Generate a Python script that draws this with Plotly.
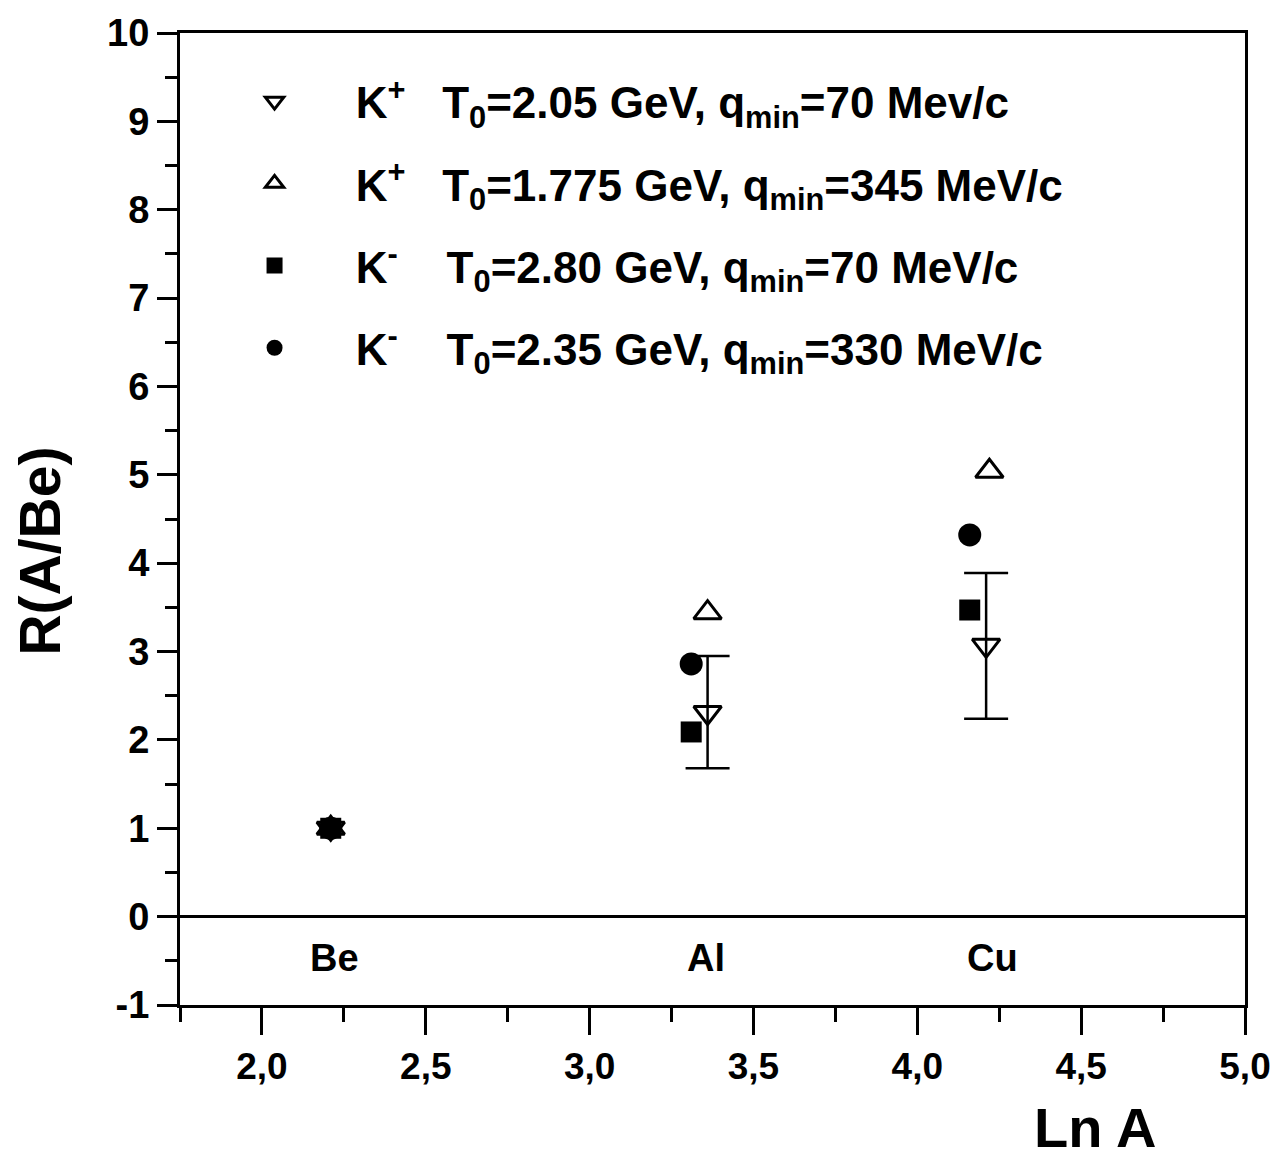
import plotly.graph_objects as go

# ---- data ----
# K+ (T0 = 2.05 GeV) series listed as Al, Cu, Be (error bars only on Al and Cu)
kp205_x = [3.36, 4.21, 2.21]
kp205_y = [2.31, 3.07, 1.0]
kp205_err_plus = [0.64, 0.82]
kp205_err_minus = [0.63, 0.83]

kp1775_x = [2.21, 3.36, 4.22]
kp1775_y = [1.0, 3.44, 5.04]

km280_x = [2.21, 3.31, 4.16]
km280_y = [1.0, 2.09, 3.47]

km235_x = [2.21, 3.31, 4.16]
km235_y = [1.0, 2.86, 4.32]

nuclei = ["Be", "Al", "Cu"]
nuclei_label_x = [2.22, 3.355, 4.23]
nuclei_label_y = [-0.47, -0.47, -0.47]

y_tickvals = [-1, 0, 1, 2, 3, 4, 5, 6, 7, 8, 9, 10]
y_ticktext = ["-1", "0", "1", "2", "3", "4", "5", "6", "7", "8", "9", "10"]

NB = "\u00a0"
names = [
    "<b>" + NB * 5 + "K<sup>+</sup>" + NB * 3 + "T<sub>0</sub>=2.05 GeV, q<sub>min</sub>=70 Mev/c</b>",
    "<b>" + NB * 5 + "K<sup>+</sup>" + NB * 3 + "T<sub>0</sub>=1.775 GeV, q<sub>min</sub>=345 MeV/c</b>",
    "<b>" + NB * 5 + "K<sup>-</sup>" + NB * 4 + "T<sub>0</sub>=2.80 GeV, q<sub>min</sub>=70 MeV/c</b>",
    "<b>" + NB * 5 + "K<sup>-</sup>" + NB * 4 + "T<sub>0</sub>=2.35 GeV, q<sub>min</sub>=330 MeV/c</b>",
]

FONT = "Liberation Sans, Arial, sans-serif"

fig = go.Figure()

fig.add_trace(go.Scatter(
    x=kp205_x, y=kp205_y, mode="markers", name=names[0], legendgroup="a",
    marker=dict(symbol="triangle-down-open", size=24, color="black", line=dict(width=3, color="black")),
    error_y=dict(type="data", array=kp205_err_plus, arrayminus=kp205_err_minus,
                 color="black", thickness=2.5, width=22),
))
fig.add_trace(go.Scatter(
    x=kp1775_x, y=kp1775_y, mode="markers", name=names[1], legendgroup="b",
    marker=dict(symbol="triangle-up-open", size=24, color="black", line=dict(width=3, color="black")),
))
fig.add_trace(go.Scatter(
    x=km280_x, y=km280_y, mode="markers", name=names[2], legendgroup="c",
    marker=dict(symbol="square", size=21, color="black", line=dict(width=0)),
))
fig.add_trace(go.Scatter(
    x=km235_x, y=km235_y, mode="markers", name=names[3], legendgroup="d",
    marker=dict(symbol="circle", size=23, color="black", line=dict(width=0)),
))

for lab, lx, ly in zip(nuclei, nuclei_label_x, nuclei_label_y):
    fig.add_annotation(x=lx, y=ly, xref="x", yref="y", text="<b>%s</b>" % lab,
                       xanchor="center", yanchor="middle",
                       showarrow=False, font=dict(family=FONT, size=38, color="black"))

fig.add_annotation(x=-0.131, y=0.467, xref="paper", yref="paper", text="<b>R(A/Be)</b>",
                   xanchor="center", yanchor="middle",
                   textangle=-90, showarrow=False, font=dict(family=FONT, size=57, color="black"))
fig.add_annotation(x=0.859, y=-0.126, xref="paper", yref="paper", text="<b>Ln A</b>",
                   xanchor="center", yanchor="middle",
                   showarrow=False, font=dict(family=FONT, size=56, color="black"))

fig.update_layout(
    width=1286, height=1165,
    margin=dict(l=180, r=41, t=30, b=160),
    paper_bgcolor="white", plot_bgcolor="white",
    separators=", ",
    font=dict(family=FONT, color="black"),
    showlegend=True,
    legend=dict(
        x=0.07, y=0.966, xanchor="left", yanchor="top",
        bgcolor="rgba(0,0,0,0)", borderwidth=0,
        font=dict(family=FONT, size=44, color="black"),
        tracegroupgap=22, itemsizing="trace",
    ),
)

fig.update_xaxes(
    range=[1.75, 5.0], dtick=0.5, tick0=0, tickformat=".1f",
    showgrid=False, zeroline=False,
    showline=True, linewidth=3, linecolor="black", mirror=True,
    ticks="outside", ticklen=27, tickwidth=2.5, tickcolor="black",
    tickfont=dict(family=FONT, size=37, color="black", weight="bold"),
    minor=dict(dtick=0.25, ticks="outside", ticklen=14, tickwidth=2.5, tickcolor="black", showgrid=False),
)
fig.update_yaxes(
    range=[-1, 10], tickmode="array", tickvals=y_tickvals, ticktext=y_ticktext,
    showgrid=False, zeroline=True, zerolinewidth=3, zerolinecolor="black",
    showline=True, linewidth=3, linecolor="black", mirror=True,
    ticks="outside", ticklen=20, tickwidth=2.5, tickcolor="black",
    tickfont=dict(family=FONT, size=38, color="black", weight="bold"),
    minor=dict(dtick=0.5, tick0=0, ticks="outside", ticklen=12, tickwidth=2.5, tickcolor="black", showgrid=False),
)

fig.write_html("out.html")
